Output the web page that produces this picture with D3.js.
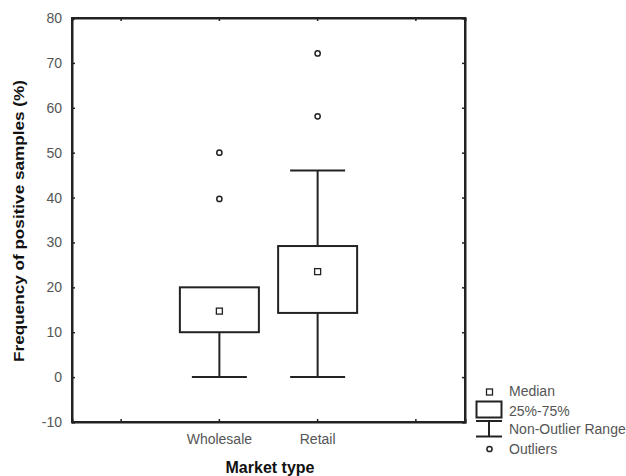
<!DOCTYPE html>
<html>
<head>
<meta charset="utf-8">
<script src="https://cdn.jsdelivr.net/npm/d3@7/dist/d3.min.js"></script>
<style>
  html, body { margin: 0; padding: 0; background: #fff; }
  svg { display: block; font-family: "Liberation Sans", Arial, sans-serif; }
</style>
</head>
<body>
<svg id="chart" width="626" height="476"></svg>
<script>
// Category slots along the x axis (outer slots are empty padding)
const slots = ["", "Wholesale", "Retail", " "];
const categories = ["Wholesale", "Retail"];
const q1 = [10, 14.3];
const q3 = [20, 29.2];
const medians = [14.7, 23.5];
const whiskerLow = [0, 0];
const whiskerHigh = [20, 46];
const outliers = [[50, 39.7], [72.1, 58.1]];
const yTicks = [-10, 0, 10, 20, 30, 40, 50, 60, 70, 80];

(function () {
  const svg = d3.select("#chart");
  const plotL = 72, plotR = 465, plotT = 18, plotB = 422;
  const ink = "#222";
  const labelGrey = "#555";

  const x = d3.scaleBand().domain(slots).range([plotL, plotR]);
  const y = d3.scaleLinear().domain([-10, 80]).range([plotB, plotT]);
  const cx = c => x(c) + x.bandwidth() / 2;
  const boxW = 79, capW = 55;

  // Frame axes with inward ticks
  const axL = svg.append("g").attr("transform", `translate(${plotL},0)`)
    .call(d3.axisLeft(y).tickValues(yTicks).tickSize(-3).tickPadding(10).tickFormat(d => String(d)));
  const axR = svg.append("g").attr("transform", `translate(${plotR},0)`)
    .call(d3.axisRight(y).tickValues(yTicks).tickSize(-3).tickFormat(""));
  const axB = svg.append("g").attr("transform", `translate(0,${plotB})`)
    .call(d3.axisBottom(x).tickSize(-3).tickPadding(12));
  const axT = svg.append("g").attr("transform", `translate(0,${plotT})`)
    .call(d3.axisTop(x).tickSize(-3).tickFormat(""));
  [axL, axR, axB, axT].forEach(g => {
    g.select(".domain").attr("stroke", ink).attr("stroke-width", 2);
    g.selectAll(".tick line").attr("stroke", ink).attr("stroke-width", 1.5);
    g.selectAll(".tick text").attr("fill", labelGrey).attr("font-size", 14)
      .attr("font-family", "Liberation Sans, Arial, sans-serif");
  });
  // square the frame corners
  svg.append("rect").attr("x", plotL).attr("y", plotT)
    .attr("width", plotR - plotL).attr("height", plotB - plotT)
    .attr("fill", "none").attr("stroke", ink).attr("stroke-width", 2);

  // Axis titles
  svg.append("text").attr("x", 270).attr("y", 473).attr("text-anchor", "middle")
    .attr("font-size", 16).attr("font-weight", "bold").attr("fill", "#111").text("Market type");
  svg.append("text").attr("transform", "translate(24,221) rotate(-90)")
    .attr("text-anchor", "middle").attr("font-size", 15.5).attr("font-weight", "bold")
    .attr("textLength", 282).attr("lengthAdjust", "spacingAndGlyphs")
    .attr("fill", "#111").text("Frequency of positive samples (%)");

  // Boxes
  const g = svg.append("g");
  categories.forEach((c, i) => {
    const xc = cx(c);
    if (whiskerLow[i] < q1[i]) {
      g.append("line").attr("x1", xc).attr("x2", xc).attr("y1", y(q1[i])).attr("y2", y(whiskerLow[i]))
        .attr("stroke", ink).attr("stroke-width", 2);
      g.append("line").attr("x1", xc - capW / 2).attr("x2", xc + capW / 2)
        .attr("y1", y(whiskerLow[i])).attr("y2", y(whiskerLow[i])).attr("stroke", ink).attr("stroke-width", 2);
    }
    if (whiskerHigh[i] > q3[i]) {
      g.append("line").attr("x1", xc).attr("x2", xc).attr("y1", y(q3[i])).attr("y2", y(whiskerHigh[i]))
        .attr("stroke", ink).attr("stroke-width", 2);
      g.append("line").attr("x1", xc - capW / 2).attr("x2", xc + capW / 2)
        .attr("y1", y(whiskerHigh[i])).attr("y2", y(whiskerHigh[i])).attr("stroke", ink).attr("stroke-width", 2);
    }
    g.append("rect").attr("x", xc - boxW / 2).attr("y", y(q3[i]))
      .attr("width", boxW).attr("height", y(q1[i]) - y(q3[i]))
      .attr("fill", "#fff").attr("stroke", ink).attr("stroke-width", 2);
    g.append("rect").attr("x", xc - 3).attr("y", y(medians[i]) - 3)
      .attr("width", 6).attr("height", 6).attr("fill", "#fff").attr("stroke", ink).attr("stroke-width", 1.3);
    outliers[i].forEach(v => {
      g.append("circle").attr("cx", xc).attr("cy", y(v)).attr("r", 2.6)
        .attr("fill", "#fff").attr("stroke", ink).attr("stroke-width", 1.5);
    });
  });

  // Legend
  const lg = svg.append("g").attr("font-size", 14).attr("fill", labelGrey);
  lg.append("rect").attr("x", 486.5).attr("y", 389).attr("width", 6).attr("height", 6)
    .attr("fill", "#fff").attr("stroke", ink).attr("stroke-width", 1.3);
  lg.append("text").attr("x", 509).attr("y", 396).text("Median");
  lg.append("rect").attr("x", 476.5).attr("y", 401.5).attr("width", 25).attr("height", 16)
    .attr("fill", "#fff").attr("stroke", ink).attr("stroke-width", 2);
  lg.append("text").attr("x", 509).attr("y", 416).text("25%-75%");
  lg.append("line").attr("x1", 476).attr("x2", 502).attr("y1", 421).attr("y2", 421).attr("stroke", ink).attr("stroke-width", 2);
  lg.append("line").attr("x1", 489).attr("x2", 489).attr("y1", 421).attr("y2", 436.5).attr("stroke", ink).attr("stroke-width", 2);
  lg.append("line").attr("x1", 476).attr("x2", 502).attr("y1", 436.5).attr("y2", 436.5).attr("stroke", ink).attr("stroke-width", 2);
  lg.append("text").attr("x", 509).attr("y", 434).text("Non-Outlier Range");
  lg.append("circle").attr("cx", 489.5).attr("cy", 449).attr("r", 2.6)
    .attr("fill", "#fff").attr("stroke", ink).attr("stroke-width", 1.5);
  lg.append("text").attr("x", 509).attr("y", 454).text("Outliers");
})();
</script>
</body>
</html>
